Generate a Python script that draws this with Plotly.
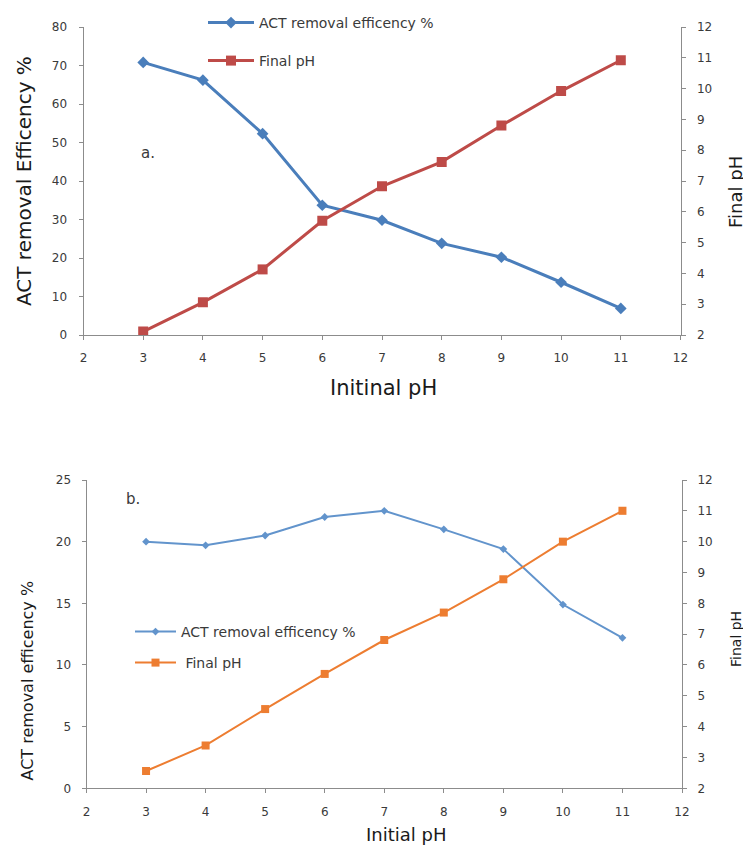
import plotly.graph_objects as go

# ---------------- data ----------------
initial_ph = [3, 4, 5, 6, 7, 8, 9, 10, 11]

# panel a
act_removal_a = [70.8, 66.2, 52.3, 33.7, 29.8, 23.8, 20.2, 13.7, 6.9]
final_ph_a = [2.11, 3.06, 4.13, 5.71, 6.83, 7.62, 8.80, 9.92, 10.92]

# panel b
act_removal_b = [20.0, 19.7, 20.5, 22.0, 22.5, 21.0, 19.4, 14.9, 12.2]
final_ph_b = [2.56, 3.39, 4.57, 5.71, 6.81, 7.70, 8.78, 10.0, 11.0]

x_ticks = [2, 3, 4, 5, 6, 7, 8, 9, 10, 11, 12]

W, H = 751, 845
OFF = 8  # page body margin of the browser
FONT = "DejaVu Sans"
AX = "#8c8c8c"
TXT = "#3a3a3a"

blue_a, red_a = "#4A7EBB", "#BE4B48"
blue_b, orange_b = "#6294CC", "#ED7D31"

fig = go.Figure()

fig.add_trace(go.Scatter(x=initial_ph, y=act_removal_a, mode="lines+markers",
                         name="ACT removal efficency %", xaxis="x", yaxis="y",
                         line=dict(color=blue_a, width=3),
                         marker=dict(symbol="diamond", size=9, color=blue_a),
                         legend="legend", showlegend=True))
fig.add_trace(go.Scatter(x=initial_ph, y=final_ph_a, mode="lines+markers",
                         name="Final pH", xaxis="x", yaxis="y2",
                         line=dict(color=red_a, width=3),
                         marker=dict(symbol="square", size=10, color=red_a),
                         legend="legend2", showlegend=True))
fig.add_trace(go.Scatter(x=initial_ph, y=act_removal_b, mode="lines+markers",
                         name="ACT removal efficency %", xaxis="x2", yaxis="y3",
                         line=dict(color=blue_b, width=2),
                         marker=dict(symbol="diamond", size=6, color=blue_b),
                         legend="legend3", showlegend=True))
fig.add_trace(go.Scatter(x=initial_ph, y=final_ph_b, mode="lines+markers",
                         name=" Final pH", xaxis="x2", yaxis="y4",
                         line=dict(color=orange_b, width=2),
                         marker=dict(symbol="square", size=8, color=orange_b),
                         legend="legend4", showlegend=True))


def ax(**kw):
    base = dict(showline=True, linecolor=AX, linewidth=1, ticks="outside",
                ticklen=4, tickcolor=AX, showgrid=False, zeroline=False,
                automargin=False,
                tickfont=dict(family=FONT, size=12, color=TXT), fixedrange=True)
    base.update(kw)
    return base


def px_x(p):
    return (p - OFF) / W


def px_y(p):
    return 1 - (p - OFF) / H


top_xdom = [px_x(83.5), px_x(680.5)]
top_ydom = [px_y(335), px_y(27)]
bot_xdom = [px_x(86.5), px_x(682)]
bot_ydom = [px_y(788.3), px_y(480)]

fig.update_layout(
    width=W, height=H, autosize=False,
    margin=dict(l=0, r=0, t=0, b=0, autoexpand=False),
    showlegend=True,
    paper_bgcolor="white", plot_bgcolor="white",
    font=dict(family=FONT, color=TXT),
    xaxis=ax(domain=top_xdom, range=[2, 12], tickvals=x_ticks, anchor="y",
             ticklabelstandoff=8),
    yaxis=ax(domain=top_ydom, range=[0, 80], dtick=10, anchor="x",
             ticklabelstandoff=9),
    yaxis2=ax(range=[2, 12], dtick=1, overlaying="y", side="right", anchor="x",
              ticklabelstandoff=9),
    xaxis2=ax(domain=bot_xdom, range=[2, 12], tickvals=x_ticks, anchor="y3",
              ticklabelstandoff=8),
    yaxis3=ax(domain=bot_ydom, range=[0, 25], dtick=5, anchor="x2",
              ticklabelstandoff=8),
    yaxis4=ax(range=[2, 12], dtick=1, overlaying="y3", side="right", anchor="x2",
              ticklabelstandoff=8),
)

leg = dict(xanchor="left", yanchor="middle", bgcolor="rgba(0,0,0,0)",
           font=dict(family=FONT, size=14, color=TXT), itemwidth=46,
           visible=True)
fig.update_layout(
    legend=dict(leg, x=px_x(203), y=px_y(23)),
    legend2=dict(leg, x=px_x(203), y=px_y(61)),
    legend3=dict(leg, x=px_x(130), y=px_y(632), itemwidth=41),
    legend4=dict(leg, x=px_x(130), y=px_y(663), itemwidth=41),
)

annots = [
    dict(text="Initinal pH", x=px_x(383), y=px_y(388), font=dict(size=21)),
    dict(text="ACT removal Efficency %", x=px_x(24), y=px_y(181), textangle=-90,
         font=dict(size=20)),
    dict(text="Final pH", x=px_x(735), y=px_y(192), textangle=-90,
         font=dict(size=18)),
    dict(text="Initial pH", x=px_x(407), y=px_y(834), font=dict(size=18)),
    dict(text="ACT removal efficency %", x=px_x(26.5), y=px_y(681), textangle=-90,
         font=dict(size=16)),
    dict(text="Final pH", x=px_x(736), y=px_y(639), textangle=-90,
         font=dict(size=14)),
]
for a in annots:
    a.update(xref="paper", yref="paper", showarrow=False, xanchor="center",
             yanchor="middle")
    a["font"] = dict(family=FONT, color="#1a1a1a", **a["font"])
    fig.add_annotation(**a)

fig.add_annotation(text="a.", x=3.08, y=47.3, xref="x", yref="y", showarrow=False,
                   font=dict(family=FONT, size=15, color=TXT))
fig.add_annotation(text="b.", x=2.78, y=23.5, xref="x2", yref="y3", showarrow=False,
                   font=dict(family=FONT, size=15, color=TXT))

fig.write_html("out.html")
